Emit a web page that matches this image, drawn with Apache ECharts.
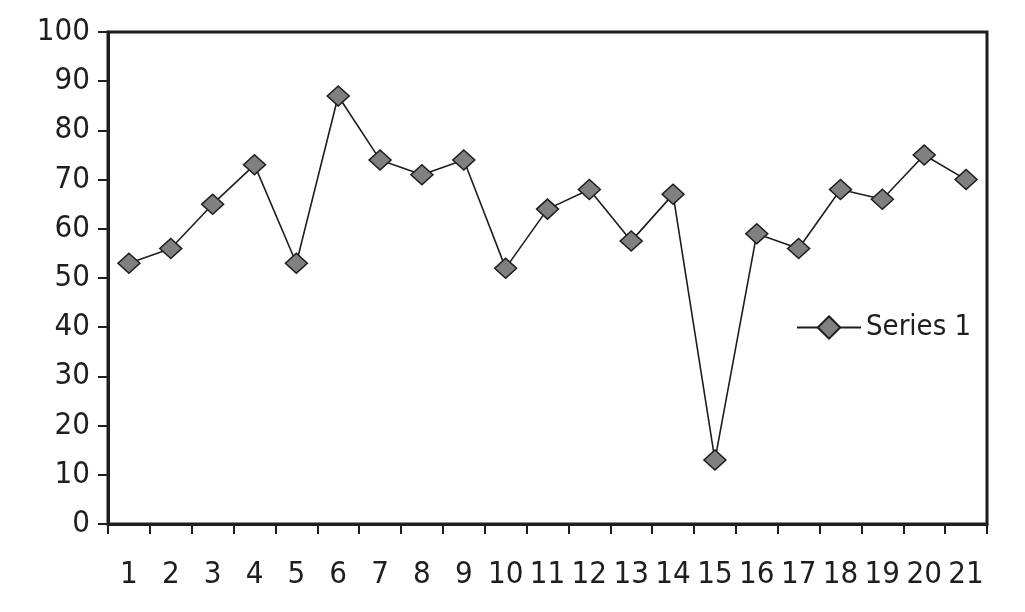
<!DOCTYPE html>
<html>
<head>
<meta charset="utf-8">
<script src="https://cdn.jsdelivr.net/npm/echarts@6/dist/echarts.min.js"></script>
<style>
  html, body { margin: 0; padding: 0; background: #fff; }
  #chart { width: 1025px; height: 612px; }
</style>
</head>
<body>
<div id="chart"></div>
<script>
// x categories
const categories = ['1', '2', '3', '4', '5', '6', '7', '8', '9', '10', '11',
  '12', '13', '14', '15', '16', '17', '18', '19', '20', '21']
// Series 1 values
const series1 = [53, 56, 65, 73, 53, 87, 74, 71, 74, 52, 64,
  68, 57.5, 67, 13, 59, 56, 68, 66, 75, 70]
const seriesName = 'Series 1'

const font = '"Liberation Sans Narrow", "DejaVu Sans Condensed", "Liberation Sans", sans-serif'
const ink = '#1e1e1e'

const chart = echarts.init(document.getElementById('chart'))
chart.setOption({
  backgroundColor: '#fff',
  animation: false,
  grid: {
    left: 108,
    right: 38,
    top: 32,
    bottom: 88,
    show: true,
    borderColor: ink,
    borderWidth: 3
  },
  legend: {
    data: [seriesName],
    left: 791,
    top: 308,
    itemWidth: 64,
    itemHeight: 28,
    itemGap: 5,
    textStyle: {
      fontFamily: font,
      fontSize: 29,
      color: ink
    }
  },
  xAxis: {
    type: 'category',
    data: categories,
    boundaryGap: true,
    axisLine: { lineStyle: { color: ink, width: 3 } },
    axisTick: { show: true, length: 10, lineStyle: { color: ink, width: 2 } },
    axisLabel: {
      interval: 0,
      margin: 35,
      fontFamily: font,
      fontSize: 31,
      color: ink
    },
    splitLine: { show: false }
  },
  yAxis: {
    type: 'value',
    min: 0,
    max: 100,
    interval: 10,
    axisLine: { show: true, lineStyle: { color: ink, width: 3 } },
    axisTick: { show: true, length: 10, lineStyle: { color: ink, width: 2 } },
    axisLabel: {
      margin: 18,
      fontFamily: font,
      fontSize: 31,
      color: ink
    },
    splitLine: { show: false }
  },
  series: [
    {
      name: seriesName,
      type: 'line',
      data: series1,
      symbol: 'diamond',
      symbolSize: [22, 20],
      lineStyle: { color: ink, width: 1.6 },
      itemStyle: { color: '#808080', borderColor: ink, borderWidth: 1.5 }
    }
  ]
})
</script>
</body>
</html>
